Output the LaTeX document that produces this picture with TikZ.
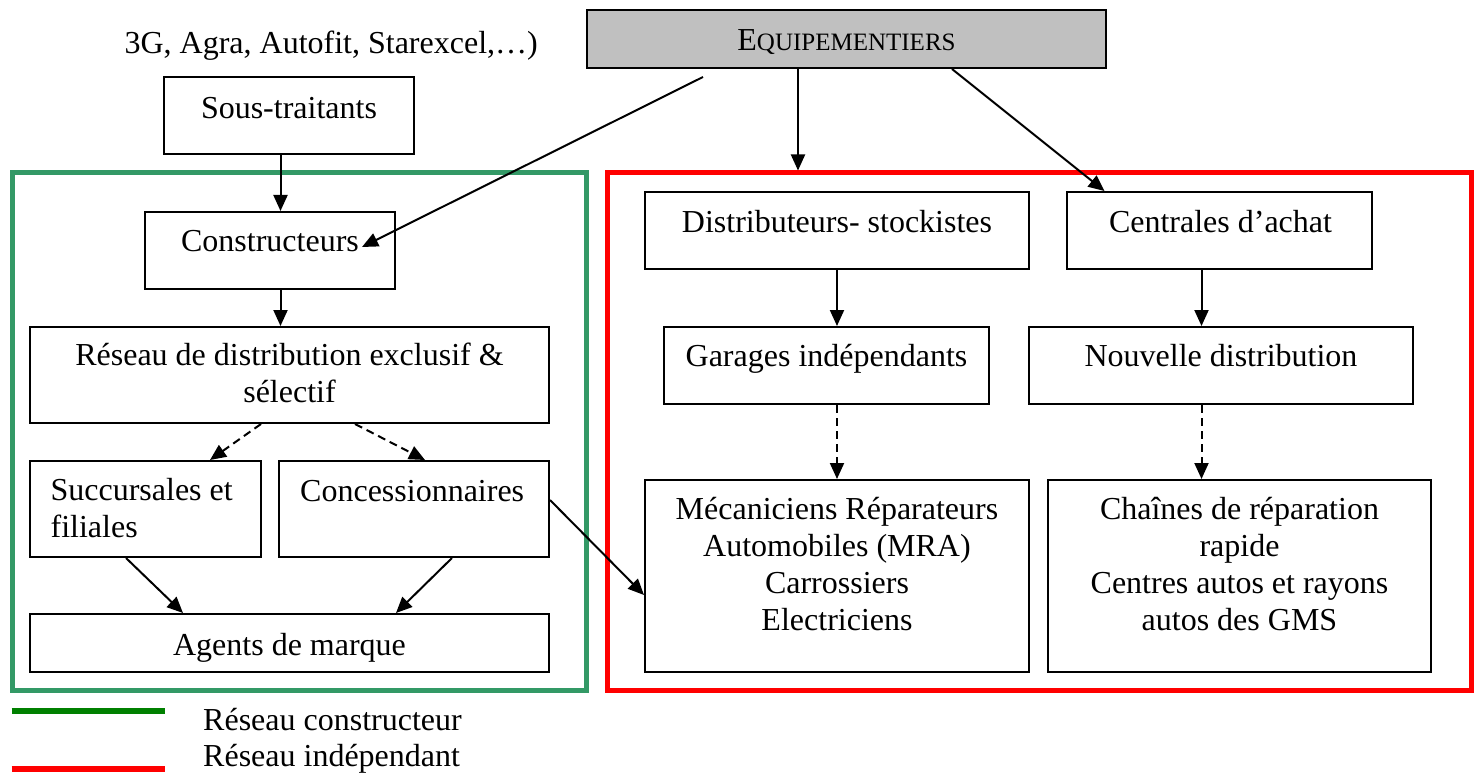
\documentclass[tikz,border=0pt]{standalone}
\usepackage{fontspec}
\setmainfont{Liberation Serif}
\usetikzlibrary{arrows.meta}
\definecolor{framegreen}{RGB}{51,153,102}
\definecolor{legendgreen}{RGB}{0,128,0}
\definecolor{equipgray}{RGB}{192,192,192}
\begin{document}
\begin{tikzpicture}[x=1pt,y=-1pt,
  boxnode/.style={draw=black, line width=2pt, fill=white, inner sep=0pt},
  framenode/.style={line width=5pt, inner sep=0pt},
  lbl/.style={font=\fontsize{32}{37}\selectfont, inner sep=0pt, anchor=base},
  arr/.style={line width=2pt, -{Triangle[length=16pt,width=14pt]}},
  dasharr/.style={arr, dash pattern=on 8pt off 5pt},
  legline/.style={line width=6pt},
]
\useasboundingbox (0,0) rectangle (1476,773);

% frames
\node[framenode, draw=framegreen, minimum width=574pt, minimum height=517pt] (gframe) at (299,431.5) {};
\node[framenode, draw=red, minimum width=864pt, minimum height=517pt] (rframe) at (1039,431.5) {};

% boxes
\node[boxnode, fill=equipgray, minimum width=519pt, minimum height=58pt] (equip) at (846.5,39) {};
\node[boxnode, minimum width=250pt, minimum height=77pt] (sous) at (289,115.5) {};
\node[boxnode, minimum width=250pt, minimum height=77pt] (cons) at (270,250.5) {};
\node[boxnode, minimum width=519pt, minimum height=96pt] (reseau) at (289.5,375) {};
\node[boxnode, minimum width=231pt, minimum height=96pt] (succ) at (145.5,509) {};
\node[boxnode, minimum width=270pt, minimum height=96pt] (conc) at (414,509) {};
\node[boxnode, minimum width=519pt, minimum height=58pt] (agents) at (289.5,643) {};
\node[boxnode, minimum width=384pt, minimum height=77pt] (dist) at (837,230.5) {};
\node[boxnode, minimum width=305pt, minimum height=77pt] (cent) at (1219.5,230.5) {};
\node[boxnode, minimum width=325pt, minimum height=77pt] (gar) at (826.5,365.5) {};
\node[boxnode, minimum width=384pt, minimum height=77pt] (nouv) at (1221,365.5) {};
\node[boxnode, minimum width=384pt, minimum height=192pt] (mra) at (837,576) {};
\node[boxnode, minimum width=383pt, minimum height=192pt] (chain) at (1239.5,576) {};

% texts
\node[lbl, anchor=base east] (t3g) at (538,54) {3G, Agra, Autofit, Starexcel,…)};
\node[lbl] (tequip) at (846.5,50.7) {E{\fontsize{25}{30}\selectfont QUIPEMENTIERS}};
\node[lbl] (tsous) at (289,118.3) {Sous-traitants};
\node[lbl] (tcons) at (270,251.7) {Constructeurs};
\node[lbl] (treseau) at (289.5,365) {\begin{tabular}[t]{@{}c@{}}Réseau de distribution exclusif \&\\ sélectif\end{tabular}};
\node[lbl, anchor=base west] (tsucc) at (50.4,500) {\begin{tabular}[t]{@{}l@{}}Succursales et\\ filiales\end{tabular}};
\node[lbl, anchor=base west] (tconc) at (300,501) {Concessionnaires};
\node[lbl] (tagents) at (289.5,655) {Agents de marque};
\node[lbl] (tdist) at (837,232.7) {Distributeurs- stockistes};
\node[lbl] (tcent) at (1220.5,232.7) {Centrales d’achat};
\node[lbl] (tgar) at (826.5,366.7) {Garages indépendants};
\node[lbl] (tnouv) at (1221,366.7) {Nouvelle distribution};
\node[lbl] (tmra) at (837,519.3) {\begin{tabular}[t]{@{}c@{}}Mécaniciens Réparateurs\\ Automobiles (MRA)\\ Carrossiers\\ Electriciens\end{tabular}};
\node[lbl] (tchain) at (1239.5,519.3) {\begin{tabular}[t]{@{}c@{}}Chaînes de réparation\\ rapide\\ Centres autos et rayons\\ autos des GMS\end{tabular}};

% arrows
\coordinate (eqstart) at (703,77);
\coordinate (constip) at (362,247);
\draw[arr] (sous.south -| 280.5,0) -- (cons.north -| 280.5,0);
\draw[arr] (cons.south -| 280.5,0) -- (reseau.north -| 280.5,0);
\draw[dasharr] (reseau.south -| 261,0) -- (succ.north -| 210,0);
\draw[dasharr] (reseau.south -| 355,0) -- (conc.north -| 425,0);
\draw[arr] (succ.south -| 126,0) -- (agents.north -| 183,0);
\draw[arr] (conc.south -| 452,0) -- (agents.north -| 396,0);
\draw[arr] (conc.east |- 0,500) -- (mra.west |- 0,595);
\draw[arr] (eqstart) -- (constip);
\draw[arr] (equip.south -| 798,0) -- (798,170.5);
\draw[arr] (equip.south -| 952,0) -- (cent.north -| 1104.5,0);
\draw[arr] (dist.south -| 837,0) -- (gar.north -| 837,0);
\draw[arr] (cent.south -| 1201.5,0) -- (nouv.north -| 1201.5,0);
\draw[dasharr] (gar.south -| 837,0) -- (mra.north -| 837,0);
\draw[dasharr] (nouv.south -| 1201.5,0) -- (chain.north -| 1201.5,0);

% legend
\coordinate (lg1) at (11.5,711);
\coordinate (lg2) at (164.5,711);
\coordinate (lr1) at (11.5,769);
\coordinate (lr2) at (164.5,769);
\draw[legline, legendgreen] (lg1) -- (lg2);
\draw[legline, red] (lr1) -- (lr2);
\node[lbl, anchor=base west] (tlg) at (203,730.7) {Réseau constructeur};
\node[lbl, anchor=base west] (tlr) at (203,766) {Réseau indépendant};
\end{tikzpicture}
\end{document}
